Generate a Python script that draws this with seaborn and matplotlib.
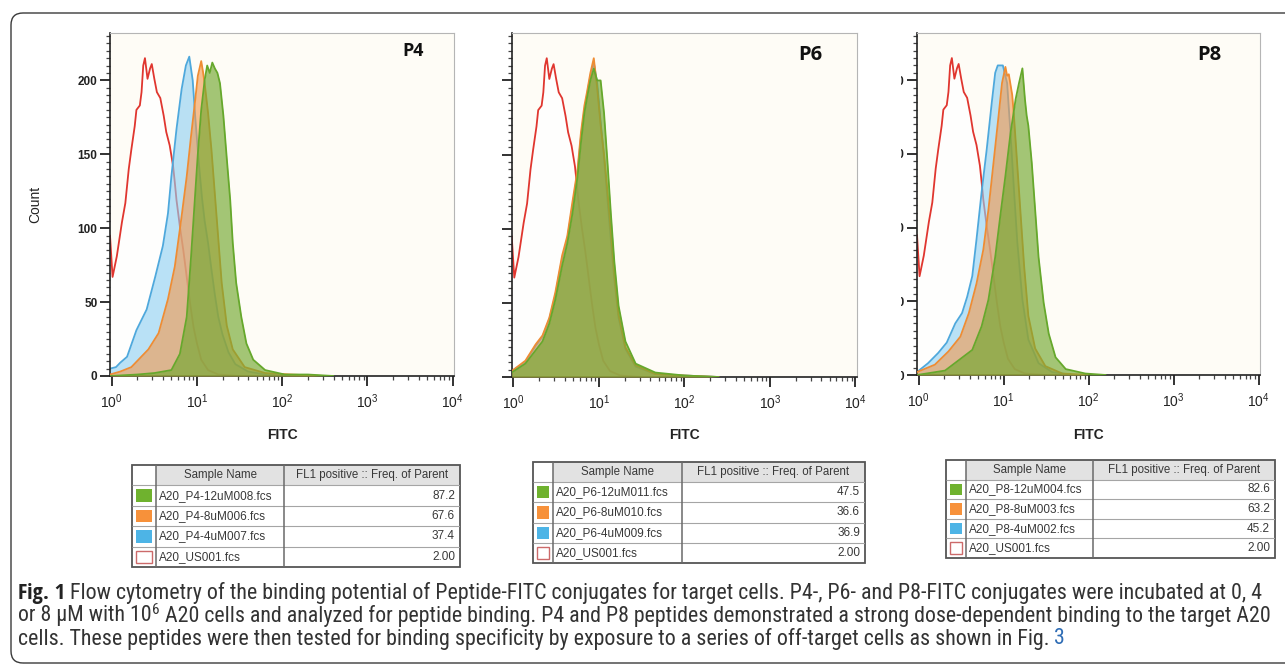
import numpy as np
import pandas as pd
import matplotlib
matplotlib.use("Agg")
import matplotlib.pyplot as plt
import seaborn as sns
from matplotlib import font_manager as fm
from matplotlib.patches import Rectangle, FancyBboxPatch
from matplotlib.transforms import IdentityTransform
from matplotlib.ticker import FixedLocator, LogLocator, MultipleLocator, NullFormatter

# ---------------- data (log10 FITC, Count) ----------------
us_logx = [-0.02, 0.01, 0.06, 0.12, 0.16, 0.20, 0.23, 0.27, 0.29, 0.33, 0.35, 0.37, 0.39, 0.42, 0.45,
           0.47, 0.50, 0.53, 0.57, 0.61, 0.64, 0.68, 0.72, 0.74, 0.76, 0.80, 0.84, 0.88, 0.92, 0.96,
           1.00, 1.05, 1.13, 1.25, 1.50]
us_count = [95, 67, 81, 104, 117, 140, 153, 169, 180, 183, 192, 210, 215, 201, 208,
            211, 201, 192, 188, 176, 165, 156, 142, 131, 119, 101, 85, 67, 49, 33,
            22, 11, 4, 1, 0]

p4_blue_logx = [-0.02, 0.05, 0.10, 0.18, 0.29, 0.41, 0.51, 0.60, 0.66, 0.70, 0.76, 0.82, 0.87, 0.91, 0.95,
                0.98, 1.02, 1.06, 1.09, 1.13, 1.17, 1.21, 1.25, 1.30, 1.37, 1.45, 1.60, 1.80, 2.10]
p4_blue_count = [5, 6, 9, 13, 31, 45, 67, 88, 110, 135, 167, 194, 210, 216, 200,
                 175, 145, 120, 105, 90, 72, 55, 40, 28, 16, 8, 3, 1, 0]
p4_orange_logx = [-0.02, 0.10, 0.23, 0.43, 0.55, 0.66, 0.74, 0.82, 0.88, 0.93, 0.98, 1.01, 1.05, 1.07, 1.09,
                  1.13, 1.17, 1.23, 1.29, 1.35, 1.42, 1.56, 1.80, 2.10, 2.50]
p4_orange_count = [1, 3, 6, 18, 29, 52, 74, 108, 135, 162, 187, 203, 213, 206, 198,
                   178, 153, 108, 63, 34, 18, 6, 2, 1, 0]
p4_green_logx = [-0.02, 0.30, 0.50, 0.70, 0.80, 0.88, 0.93, 0.97, 1.01, 1.05, 1.09, 1.12, 1.15, 1.18, 1.21,
                 1.24, 1.27, 1.31, 1.35, 1.39, 1.42, 1.46, 1.52, 1.58, 1.66, 1.80, 2.03, 2.30, 2.60]
p4_green_count = [0, 1, 2, 4, 15, 40, 80, 115, 150, 180, 200, 210, 205, 212, 208,
                  205, 198, 176, 147, 119, 90, 63, 40, 22, 11, 4, 1, 1, 0]

p6_logx = [-0.02, 0.14, 0.26, 0.34, 0.42, 0.49, 0.57, 0.63, 0.69, 0.75, 0.79, 0.83, 0.86, 0.90,
           0.94, 0.98, 1.02, 1.06, 1.10, 1.14, 1.18, 1.23, 1.31, 1.43, 1.66, 2.00, 2.40]
p6_blue_count = [4, 10, 21, 27, 39, 55, 80, 93, 115, 138, 162, 180, 190, 203,
                 212, 198, 172, 148, 120, 92, 66, 40, 19, 7, 2, 1, 0]
p6_orange_count = [4, 11, 22, 28, 40, 57, 82, 95, 118, 140, 165, 183, 192, 205,
                   215, 195, 170, 150, 125, 98, 70, 42, 20, 8, 2, 1, 0]
p6_green_count = [3, 9, 18, 24, 36, 52, 75, 90, 110, 135, 158, 178, 188, 200,
                  208, 200, 200, 178, 145, 110, 78, 48, 24, 9, 3, 1, 0]

p8_blue_logx = [-0.02, 0.11, 0.23, 0.33, 0.43, 0.51, 0.57, 0.63, 0.68, 0.74, 0.80, 0.86, 0.90, 0.93,
                0.99, 1.04, 1.08, 1.12, 1.16, 1.22, 1.29, 1.41, 1.57, 1.80]
p8_blue_count = [2, 8, 15, 22, 35, 42, 53, 67, 92, 124, 153, 185, 205, 210,
                 210, 198, 164, 126, 90, 51, 24, 8, 2, 0]
p8_orange_logx = [-0.02, 0.19, 0.35, 0.49, 0.59, 0.68, 0.76, 0.82, 0.88, 0.94, 0.98, 1.02, 1.04, 1.06,
                  1.10, 1.12, 1.16, 1.20, 1.24, 1.29, 1.37, 1.49, 1.69, 2.00]
p8_orange_count = [2, 7, 16, 26, 42, 62, 85, 112, 144, 176, 198, 209, 203, 204,
                   190, 176, 142, 108, 74, 40, 18, 6, 1, 0]
p8_green_logx = [-0.02, 0.31, 0.47, 0.63, 0.74, 0.82, 0.90, 0.96, 1.02, 1.08, 1.14, 1.18, 1.22, 1.25,
                 1.27, 1.29, 1.33, 1.37, 1.41, 1.47, 1.53, 1.61, 1.73, 1.96, 2.20]
p8_green_count = [0, 3, 10, 17, 33, 51, 80, 108, 135, 164, 187, 198, 208, 187,
                  176, 169, 144, 112, 80, 49, 28, 12, 4, 1, 0]

panel_names = ["P4", "P6", "P8"]
sample_names = [
    ["A20_P4-12uM008.fcs", "A20_P4-8uM006.fcs", "A20_P4-4uM007.fcs", "A20_US001.fcs"],
    ["A20_P6-12uM011.fcs", "A20_P6-8uM010.fcs", "A20_P6-4uM009.fcs", "A20_US001.fcs"],
    ["A20_P8-12uM004.fcs", "A20_P8-8uM003.fcs", "A20_P8-4uM002.fcs", "A20_US001.fcs"],
]
freq_values = [["87.2", "67.6", "37.4", "2.00"],
               ["47.5", "36.6", "36.9", "2.00"],
               ["82.6", "63.2", "45.2", "2.00"]]
table_header = ["Sample Name", "FL1 positive :: Freq. of Parent"]
x_ticks = [1, 10, 100, 1000, 10000]
y_ticks = [0, 50, 100, 150, 200]
x_label = "FITC"
y_label = "Count"
caption_bold = "Fig. 1"
caption_line1 = "Flow cytometry of the binding potential of Peptide-FITC conjugates for target cells. P4-, P6- and P8-FITC conjugates were incubated at 0, 4"
caption_line2 = ["or 8 \u00b5M with 10", "6", " A20 cells and analyzed for peptide binding. P4 and P8 peptides demonstrated a strong dose-dependent binding to the target A20"]
caption_line3 = "cells. These peptides were then tested for binding specificity by exposure to a series of off-target cells as shown in Fig."
caption_link = "3"

# ---------------- style ----------------
sns.set_theme(style="white")


def has_font(name):
    try:
        fm.findfont(fm.FontProperties(family=name), fallback_to_default=False)
        return True
    except Exception:
        return False


BASE_FONT = "Liberation Sans" if has_font("Liberation Sans") else "DejaVu Sans"


def find_condensed(bold=False):
    prefs = ["Liberation Sans Narrow", "Open Sans", "Noto Sans", "Roboto", "DejaVu Sans"]
    cands = []
    for f in fm.fontManager.ttflist:
        st = str(f.stretch).lower()
        nm = f.name.lower()
        cond = ("condensed" in st and "semi" not in st and "extra" not in st and "ultra" not in st) \
            or "narrow" in nm or ("condensed" in nm and "semi" not in nm and "extra" not in nm)
        if not cond or f.style != "normal":
            continue
        w = f.weight if isinstance(f.weight, int) else (700 if "bold" in str(f.weight) else 400)
        if bold and w != 700:
            continue
        if not bold and w != 400:
            continue
        rank = len(prefs)
        for k, p in enumerate(prefs):
            if f.name.startswith(p):
                rank = k
                break
        cands.append((rank, f.fname))
    if cands:
        cands.sort()
        return fm.FontProperties(fname=cands[0][1])
    return fm.FontProperties(family=BASE_FONT, weight="bold" if bold else "normal")


CAP_FP = find_condensed(False)
CAP_FP_B = find_condensed(True)

plt.rcParams["font.family"] = [BASE_FONT, "DejaVu Sans"]
plt.rcParams["mathtext.fontset"] = "custom"
plt.rcParams["mathtext.rm"] = BASE_FONT
plt.rcParams["mathtext.it"] = BASE_FONT
plt.rcParams["mathtext.bf"] = BASE_FONT + ":bold"

LINE = {"green": "#66a82c", "orange": "#ef8c33", "blue": "#4ea8dc", "red": "#e0362f"}
FILL = {"green": "#72a830", "orange": "#f39a50", "blue": "#8fd0f2"}
ALPHA = {"green": 0.65, "orange": 0.62, "blue": 0.62}
SQUARE = {"green": "#6fb22e", "orange": "#f7913a", "blue": "#4db4e6"}

W, H = 1285, 665
fig = plt.figure(figsize=(W / 100, H / 100), dpi=100)
fig.patch.set_facecolor("white")


def fig_rect(l, t, r, b):
    return [l / W, 1 - b / H, (r - l) / W, (b - t) / H]


def draw_curve(ax, logx, count, key, z):
    df = pd.DataFrame({"FITC": np.power(10.0, np.asarray(logx, dtype=float)), "Count": count})
    if key == "red":
        ax.fill_between(df["FITC"], 0, df["Count"], color="white", alpha=0.8, lw=0, zorder=z)
    else:
        ax.fill_between(df["FITC"], 0, df["Count"], color=FILL[key], alpha=ALPHA[key], lw=0, zorder=z)
    sns.lineplot(data=df, x="FITC", y="Count", ax=ax, color=LINE[key], lw=1.3,
                 sort=False, estimator=None, zorder=z + 0.5)


panels = [
    dict(box=(110, 33, 454, 376), ylabels=True, name_pos=(0.881, 0.948), name_size=13,
         curves=[(p4_blue_logx, p4_blue_count, "blue"), (p4_orange_logx, p4_orange_count, "orange"),
                 (p4_green_logx, p4_green_count, "green")]),
    dict(box=(511.7, 33, 856.7, 377), ylabels=False, name_pos=(0.865, 0.936), name_size=14.5,
         curves=[(p6_logx, p6_blue_count, "blue"), (p6_logx, p6_orange_count, "orange"),
                 (p6_logx, p6_green_count, "green")]),
    dict(box=(917, 33, 1260, 375), ylabels=True, name_pos=(0.851, 0.936), name_size=14.5,
         curves=[(p8_blue_logx, p8_blue_count, "blue"), (p8_orange_logx, p8_orange_count, "orange"),
                 (p8_green_logx, p8_green_count, "green")]),
]

for i, p in enumerate(panels):
    l, t, r, b = p["box"]
    ax = fig.add_axes(fig_rect(l, t, r, b))
    ax.set_facecolor("#fefcf6")
    ax.set_xscale("log")
    draw_curve(ax, us_logx, us_count, "red", 1)
    for k, (lx, cnt, key) in enumerate(p["curves"]):
        draw_curve(ax, lx, cnt, key, 2 + k)
    ax.set_xscale("log")
    ax.set_xlim(10 ** -0.02, 10 ** 4.015)
    ax.set_ylim(0, 232)
    ax.xaxis.set_major_locator(FixedLocator(x_ticks))
    ax.xaxis.set_minor_locator(LogLocator(base=10, subs=np.arange(2, 10)))
    ax.xaxis.set_minor_formatter(NullFormatter())
    ax.yaxis.set_major_locator(FixedLocator(y_ticks))
    ax.yaxis.set_minor_locator(MultipleLocator(5))
    ax.tick_params(which="both", bottom=True, left=True, top=False, right=False, direction="out")
    ax.tick_params(which="major", length=7, width=1.3, color="#222222", labelcolor="#222222")
    ax.tick_params(which="minor", length=2.6, width=0.9, color="#444444")
    ax.tick_params(axis="x", which="major", labelsize=10, pad=5)
    ax.tick_params(axis="y", which="major", labelsize=8.5, pad=2)
    for lab in ax.get_yticklabels():
        lab.set_fontweight("bold")
    if not p["ylabels"]:
        ax.tick_params(axis="y", labelleft=False)
    for s in ["top", "right"]:
        ax.spines[s].set_color("#b5b5b5")
        ax.spines[s].set_linewidth(0.8)
    for s in ["left", "bottom"]:
        ax.spines[s].set_color("#222222")
        ax.spines[s].set_linewidth(1.2)
    ax.set_xlabel(x_label, fontsize=10, fontweight="bold", color="#222222")
    ax.xaxis.set_label_coords(0.5, -(435 - b) / (b - t))
    ax.xaxis.label.set_va("center")
    if i == 0:
        ax.set_ylabel(y_label, fontsize=10, color="#222222")
        ax.yaxis.set_label_coords(-(l - 35) / (r - l), 0.5)
        ax.yaxis.label.set_va("center")
    else:
        ax.set_ylabel("")
    ax.text(p["name_pos"][0], p["name_pos"][1], panel_names[i], transform=ax.transAxes,
            ha="center", va="center", fontsize=p["name_size"], fontweight="bold", color="#111111",
            family=["Open Sans", BASE_FONT])

# white overlay clipping the left part of the P8 y labels (cropped in the original)
fig.add_artist(Rectangle((862, H - 395), 39, 370, transform=IdentityTransform(),
                         facecolor="white", edgecolor="none", zorder=5))

# ---------------- tables ----------------
tables = [
    dict(box=(132, 465, 460, 567), cols=[132, 156, 284, 460]),
    dict(box=(533, 462, 865, 563), cols=[533, 553, 682, 865]),
    dict(box=(946, 460, 1275, 558), cols=[946, 966, 1093, 1275]),
]
square_keys = ["green", "orange", "blue", None]

for i, tb in enumerate(tables):
    l, t, r, b = tb["box"]
    cols = tb["cols"]
    ax = fig.add_axes(fig_rect(l, t, r, b))
    ax.set_xlim(l, r)
    ax.set_ylim(b, t)
    ax.axis("off")
    n = len(sample_names[i]) + 1
    hh = (b - t) / n
    rows = [t + j * hh for j in range(n + 1)]
    ax.add_patch(Rectangle((l, t), r - l, b - t, facecolor="white", edgecolor="none"))
    ax.add_patch(Rectangle((cols[1], t), r - cols[1], hh, facecolor="#e2e2e2", edgecolor="none"))
    for y in rows[1:-1]:
        ax.plot([l, r], [y, y], color="#a5a5a5", lw=0.8, solid_capstyle="butt")
    for x in cols[1:-1]:
        ax.plot([x, x], [t, b], color="#6a6a6a", lw=1.1, solid_capstyle="butt")
    ax.add_patch(Rectangle((l, t), r - l, b - t, fill=False, edgecolor="#555555", lw=1.3, clip_on=False))
    ax.text((cols[1] + cols[2]) / 2, t + hh / 2, table_header[0], ha="center", va="center",
            fontsize=8.3, color="#383838")
    ax.text((cols[2] + cols[3]) / 2, t + hh / 2, table_header[1], ha="center", va="center",
            fontsize=8.3, color="#383838")
    for j, (nm, val) in enumerate(zip(sample_names[i], freq_values[i])):
        yc = rows[j + 1] + hh / 2
        ax.text(cols[1] + 3, yc, nm, ha="left", va="center", fontsize=8.5, color="#383838")
        ax.text(r - 5, yc, val, ha="right", va="center", fontsize=8.5, color="#383838")
        key = square_keys[j]
        sq_x, sq_w = cols[0] + 4, cols[1] - cols[0] - 8
        sq_y, sq_h = rows[j + 1] + 4, hh - 8
        if key:
            ax.add_patch(Rectangle((sq_x, sq_y), sq_w, sq_h, facecolor=SQUARE[key], edgecolor="none"))
        else:
            ax.add_patch(Rectangle((sq_x, sq_y), sq_w, sq_h, facecolor="white", edgecolor="#cc6a6a", lw=1.0))

# ---------------- caption ----------------
fig.canvas.draw()
renderer = fig.canvas.get_renderer()
CAP_COLOR = "#333333"


def text_at(x, y, s, size, fp, color=CAP_COLOR, va="center"):
    t = fig.text(x / W, 1 - y / H, s, fontproperties=fp, va=va, ha="left", color=color)
    t.set_fontsize(size)
    return t


def width_of(s, size, fp):
    t = text_at(0, 0, s, size, fp)
    w = t.get_window_extent(renderer).width
    t.remove()
    return w


BASE_SIZE = 12.0
w1 = width_of(caption_line1, BASE_SIZE, CAP_FP)
fs1 = BASE_SIZE * 1195 / w1
w2 = width_of(caption_line2[0] + caption_line2[2], BASE_SIZE, CAP_FP) + width_of(caption_line2[1], BASE_SIZE * 0.7, CAP_FP)
fs2 = BASE_SIZE * 1250 / w2
fs3 = (fs1 + fs2) / 2

text_at(18, 593, caption_bold, fs1 * 1.02, CAP_FP_B, color="#222222")
text_at(70, 593, caption_line1, fs1, CAP_FP)

x = 18
ta = text_at(x, 616, caption_line2[0], fs2, CAP_FP)
x = ta.get_window_extent(renderer).x1 + 0.5
tb_ = text_at(x, 610, caption_line2[1], fs2 * 0.7, CAP_FP)
x = tb_.get_window_extent(renderer).x1
text_at(x, 616, caption_line2[2], fs2, CAP_FP)

t3 = text_at(18, 639, caption_line3, fs3, CAP_FP)
x_end = t3.get_window_extent(renderer).x1
text_at(x_end + fs3 * 0.3, 639, caption_link, fs3, CAP_FP, color="#2f6db5")

# outer rounded frame
fig.add_artist(FancyBboxPatch((11, 2), 1400, H - 13 - 2, boxstyle="round,pad=0,rounding_size=12",
                              transform=IdentityTransform(), fill=False, edgecolor="#3a3a3a", lw=1.0,
                              zorder=6))

fig.savefig("out.png", dpi=100, facecolor="white")
